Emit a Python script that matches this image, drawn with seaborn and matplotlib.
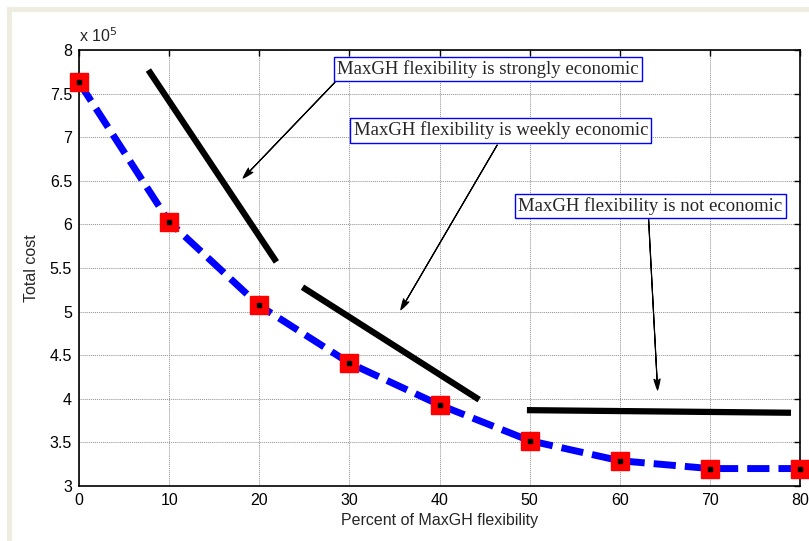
import numpy as np
import pandas as pd
import matplotlib.pyplot as plt
import matplotlib.ticker as mticker
from matplotlib.patches import Rectangle
import seaborn as sns

# data
percent = [0, 10, 20, 30, 40, 50, 60, 70, 80]
total_cost = [763000, 603000, 507000, 441000, 393000, 352000, 329000, 320000, 320000]

# trend segments (x0, x1, y0, y1)
seg_x = [[7.7, 21.9], [24.8, 44.4], [49.7, 79.0]]
seg_y = [[777000, 557000], [528000, 399000], [387000, 384000]]

notes = ["MaxGH flexibility is strongly economic",
         "MaxGH flexibility is weekly economic",
         "MaxGH flexibility is not economic"]
note_xy = [(45.4, 778000), (46.8, 708000), (63.4, 621000)]
note_tail = [(28.4, 763000), (46.4, 691000), (63.2, 606000)]
note_tip = [(18.2, 653000), (35.7, 502000), (64.2, 410000)]

sns.set_style("white")
plt.rcParams['font.family'] = ['Liberation Sans', 'DejaVu Sans']

df = pd.DataFrame({"Percent of MaxGH flexibility": percent, "Total cost": total_cost})

fig = plt.figure(figsize=(8.09, 5.41), dpi=100)
fig.patch.set_facecolor("white")
fig.patches.append(Rectangle((9 / 809, -0.1), 1.2, 1.1 - 9 / 541, transform=fig.transFigure,
                             fill=False, edgecolor="#eeece0", linewidth=3.5))
ax = fig.add_axes([79 / 809, 1 - 486 / 541, 721 / 809, 436 / 541])

sns.lineplot(data=df, x="Percent of MaxGH flexibility", y="Total cost", ax=ax,
             color="blue", linewidth=5, dashes=False, zorder=3)
ax.lines[-1].set_dashes([3.2, 1.3])
ax.plot(percent, total_cost, linestyle="none", marker="s", markersize=13,
        markerfacecolor="red", markeredgecolor="red", zorder=4, clip_on=False)
ax.plot(percent, total_cost, linestyle="none", marker="s", markersize=2.2,
        color="black", zorder=5, clip_on=False)

for xs, ys in zip(seg_x, seg_y):
    ax.plot(xs, ys, color="black", linewidth=4.5, solid_capstyle="butt", zorder=2)

for txt, xy, tail, tip in zip(notes, note_xy, note_tail, note_tip):
    ax.annotate("", xy=tip, xytext=tail,
                arrowprops=dict(arrowstyle="fancy,head_length=0.8,head_width=0.45,tail_width=0.01",
                                color="black", lw=0.7, shrinkA=0, shrinkB=0))
    ax.annotate("", xy=tip, xytext=tail,
                arrowprops=dict(arrowstyle="-", color="black", lw=0.9, shrinkA=0, shrinkB=2))
    ax.text(xy[0], xy[1], txt, ha="center", va="center", fontsize=13.5,
            family="Liberation Serif", zorder=6,
            bbox=dict(boxstyle="square,pad=0.18", fc="white", ec="blue", lw=1))

ax.set_xlim(0, 80)
ax.set_ylim(300000, 800000)
ax.set_xticks(range(0, 81, 10))
ax.set_yticks(np.arange(300000, 800001, 50000))
ax.yaxis.set_major_formatter(mticker.FuncFormatter(lambda v, p: f"{v / 1e5:g}"))
ax.grid(True, color="#909090", linestyle=(0, (1, 1)), linewidth=0.7)
ax.tick_params(direction="in", length=4, width=1, top=True, right=True,
               labelsize=11.5, colors="black", pad=5)
for s in ax.spines.values():
    s.set_visible(True)
    s.set_color("black")
    s.set_linewidth(1.2)
ax.set_xlabel("Percent of MaxGH flexibility", fontsize=11.5, labelpad=4)
ax.set_ylabel("Total cost", fontsize=11.5, labelpad=8)
ax.text(0.0, 1.012, r"x 10$^5$", transform=ax.transAxes, fontsize=11.5,
        ha="left", va="bottom")

fig.savefig("out.png", dpi=100)
